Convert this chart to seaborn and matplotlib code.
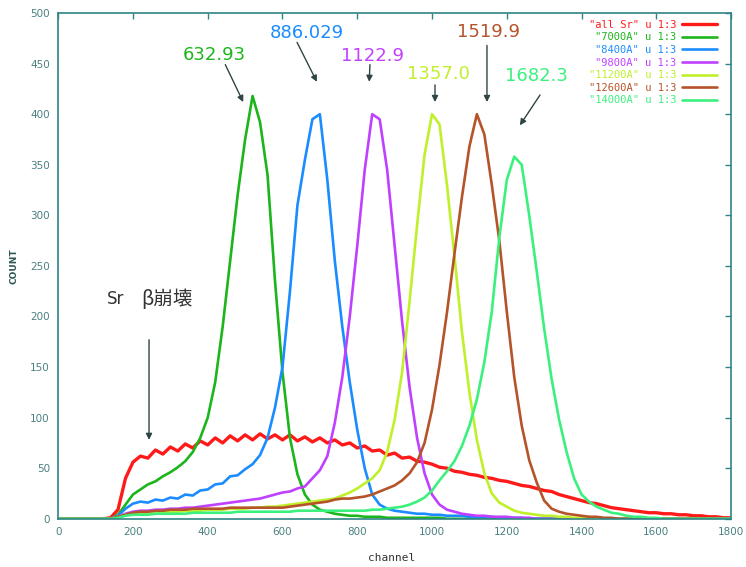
import numpy as np
import matplotlib
matplotlib.use("Agg")
import matplotlib.pyplot as plt
import seaborn as sns

# channel grid (every 20 channels) and counts
channel = np.arange(0, 1801, 20)

all_sr = [0, 0, 0, 0, 0, 0, 0, 1, 9, 40,
          56, 62, 60, 68, 64, 71, 67, 74, 70, 77,
          73, 80, 75, 82, 77, 83, 78, 84, 79, 83,
          78, 83, 77, 81, 76, 80, 75, 78, 73, 75,
          70, 72, 67, 68, 63, 65, 60, 61, 57, 56,
          54, 51, 50, 47, 46, 44, 43, 41, 40, 38,
          37, 35, 33, 32, 30, 28, 27, 24, 22, 20,
          18, 16, 15, 13, 11, 10, 9, 8, 7, 6,
          6, 5, 5, 4, 4, 3, 3, 2, 2, 1,
          1]
a7000 = [0, 0, 0, 0, 0, 0, 0, 0, 4, 14,
         24, 29, 34, 37, 42, 46, 51, 57, 66, 80,
         100, 135, 190, 255, 320, 375, 418, 392, 340, 235,
         145, 80, 44, 24, 14, 9, 7, 5, 4, 3,
         3, 2, 2, 2, 1, 1, 1, 1, 1, 1,
         1, 1, 0, 0, 0, 0, 0, 0, 0, 0,
         0, 0, 0, 0, 0, 0, 0, 0, 0, 0,
         0, 0, 0, 0, 0, 0, 0, 0, 0, 0,
         0, 0, 0, 0, 0, 0, 0, 0, 0, 0,
         0]
a8400 = [0, 0, 0, 0, 0, 0, 0, 0, 3, 10,
         15, 17, 16, 19, 18, 21, 20, 24, 23, 28,
         29, 34, 35, 42, 43, 49, 54, 63, 80, 110,
         150, 225, 310, 355, 395, 400, 335, 255, 190, 135,
         88, 50, 24, 14, 10, 8, 7, 6, 5, 5,
         4, 4, 3, 3, 3, 2, 2, 2, 2, 1,
         1, 1, 1, 0, 0, 0, 0, 0, 0, 0,
         0, 0, 0, 0, 0, 0, 0, 0, 0, 0,
         0, 0, 0, 0, 0, 0, 0, 0, 0, 0,
         0]
a9800 = [0, 0, 0, 0, 0, 0, 0, 0, 2, 5,
         7, 8, 8, 9, 9, 10, 10, 11, 11, 12,
         13, 14, 15, 16, 17, 18, 19, 20, 22, 24,
         26, 27, 30, 32, 40, 48, 62, 95, 140, 200,
         270, 345, 400, 395, 345, 270, 195, 130, 80, 45,
         24, 14, 9, 7, 5, 4, 3, 3, 2, 2,
         2, 1, 1, 1, 0, 0, 0, 0, 0, 0,
         0, 0, 0, 0, 0, 0, 0, 0, 0, 0,
         0, 0, 0, 0, 0, 0, 0, 0, 0, 0,
         0]
a11200 = [0, 0, 0, 0, 0, 0, 0, 0, 2, 4,
          5, 5, 6, 6, 7, 7, 7, 8, 8, 8,
          9, 9, 9, 10, 10, 10, 11, 11, 12, 12,
          13, 14, 15, 16, 17, 18, 19, 20, 23, 26,
          30, 35, 40, 48, 66, 98, 145, 215, 290, 360,
          400, 390, 330, 260, 185, 125, 78, 45, 25, 16,
          12, 8, 6, 5, 4, 3, 3, 2, 2, 1,
          1, 0, 0, 0, 0, 0, 0, 0, 0, 0,
          0, 0, 0, 0, 0, 0, 0, 0, 0, 0,
          0]
a12600 = [0, 0, 0, 0, 0, 0, 0, 0, 2, 4,
          6, 7, 7, 8, 8, 9, 9, 9, 10, 10,
          10, 10, 10, 11, 11, 11, 11, 11, 11, 11,
          11, 12, 13, 14, 15, 16, 17, 19, 20, 20,
          21, 22, 24, 27, 30, 33, 38, 45, 56, 75,
          108, 152, 204, 262, 318, 368, 400, 380, 330, 275,
          205, 140, 92, 58, 36, 18, 10, 7, 5, 4,
          3, 2, 2, 1, 1, 0, 0, 0, 0, 0,
          0, 0, 0, 0, 0, 0, 0, 0, 0, 0,
          0]
a14000 = [0, 0, 0, 0, 0, 0, 0, 0, 1, 3,
          4, 4, 4, 5, 5, 5, 5, 5, 6, 6,
          6, 6, 6, 6, 7, 7, 7, 7, 7, 7,
          7, 7, 8, 8, 8, 8, 8, 8, 8, 8,
          8, 8, 9, 9, 10, 11, 12, 14, 17, 21,
          28, 38, 47, 57, 72, 92, 118, 155, 205, 278,
          335, 358, 350, 300, 245, 188, 138, 98, 66, 40,
          24, 17, 12, 9, 6, 5, 3, 2, 2, 1,
          1, 0, 0, 0, 0, 0, 0, 0, 0, 0,
          0]

labels = ['"all Sr" u 1:3', '"7000A" u 1:3', '"8400A" u 1:3', '"9800A" u 1:3',
          '"11200A" u 1:3', '"12600A" u 1:3', '"14000A" u 1:3']
colors = ["#ff1a1a", "#1cb51c", "#1a8cff", "#c040ff", "#bff02a", "#b5532a", "#3cf07e"]
series = [all_sr, a7000, a8400, a9800, a11200, a12600, a14000]

# peak position annotations
peak_text = ["632.93", "886.029", "1122.9", "1357.0", "1519.9", "1682.3"]
peak_text_xy = [(417, 459), (666, 480), (842, 458), (1016, 440), (1152, 481), (1278, 438)]
peak_arrow_from = [(447, 449), (639, 471), (834, 449), (1008, 429), (1147, 468), (1289, 419)]
peak_arrow_to = [(495, 412), (692, 432), (832, 432), (1008, 412), (1147, 412), (1235, 389)]

sns.set_style("white")
axis_col = "#2f8585"
tick_col = "#4a8080"
arrow_col = "#2f4545"

fig = plt.figure(figsize=(7.46, 5.67), dpi=100)
ax = fig.add_axes([0.078, 0.085, 0.902, 0.892])

for vals, lab, col in zip(series, labels, colors):
    lw = 2.4 if lab.startswith('"all') else 1.9
    sns.lineplot(x=channel, y=vals, color=col, label=lab, linewidth=lw, ax=ax)

ax.set_xlim(0, 1800)
ax.set_ylim(0, 500)
ax.set_xticks(np.arange(0, 1801, 200))
ax.set_yticks(np.arange(0, 501, 50))
ax.tick_params(direction="in", length=4, width=1, colors=axis_col,
               labelcolor=tick_col, labelsize=7.5, top=True, right=True, pad=6)
for sp in ax.spines.values():
    sp.set_color(axis_col)
    sp.set_linewidth(1.2)

ax.set_xlabel("channel", fontsize=8, color="#333333", family="DejaVu Sans Mono")
ax.set_ylabel("COUNT", fontsize=6.5, color="#2f5555", fontweight="bold")
ax.xaxis.set_label_coords(0.495, -0.067)
ax.yaxis.set_label_coords(-0.059, 0.5)

for txt, txy, a0, a1, col in zip(peak_text, peak_text_xy, peak_arrow_from, peak_arrow_to, colors[1:]):
    ax.text(txy[0], txy[1], txt, color=col, fontsize=13, ha="center", va="center")
    ax.annotate("", xy=a1, xytext=a0,
                arrowprops=dict(arrowstyle="-|>", color=arrow_col, lw=1.0,
                                mutation_scale=9, shrinkA=0, shrinkB=0))

ax.text(131, 217, "Sr", fontsize=12, color="#333333", ha="left", va="center")
ax.text(222, 217, "β崩壊", fontsize=14, color="#333333", ha="left", va="center",
        family=["Noto Sans CJK JP", "DejaVu Sans"])
ax.annotate("", xy=(243, 78), xytext=(243, 177),
            arrowprops=dict(arrowstyle="-|>", color=arrow_col, lw=1.0,
                            mutation_scale=9, shrinkA=0, shrinkB=0))

leg = ax.legend(loc="upper right", bbox_to_anchor=(0.985, 0.995), frameon=False,
                markerfirst=False, labelcolor="linecolor", handlelength=3.3,
                handletextpad=0.6, labelspacing=0.25, borderaxespad=0,
                prop={"family": "DejaVu Sans Mono", "size": 7.5})

fig.savefig("out.png", dpi=100)
